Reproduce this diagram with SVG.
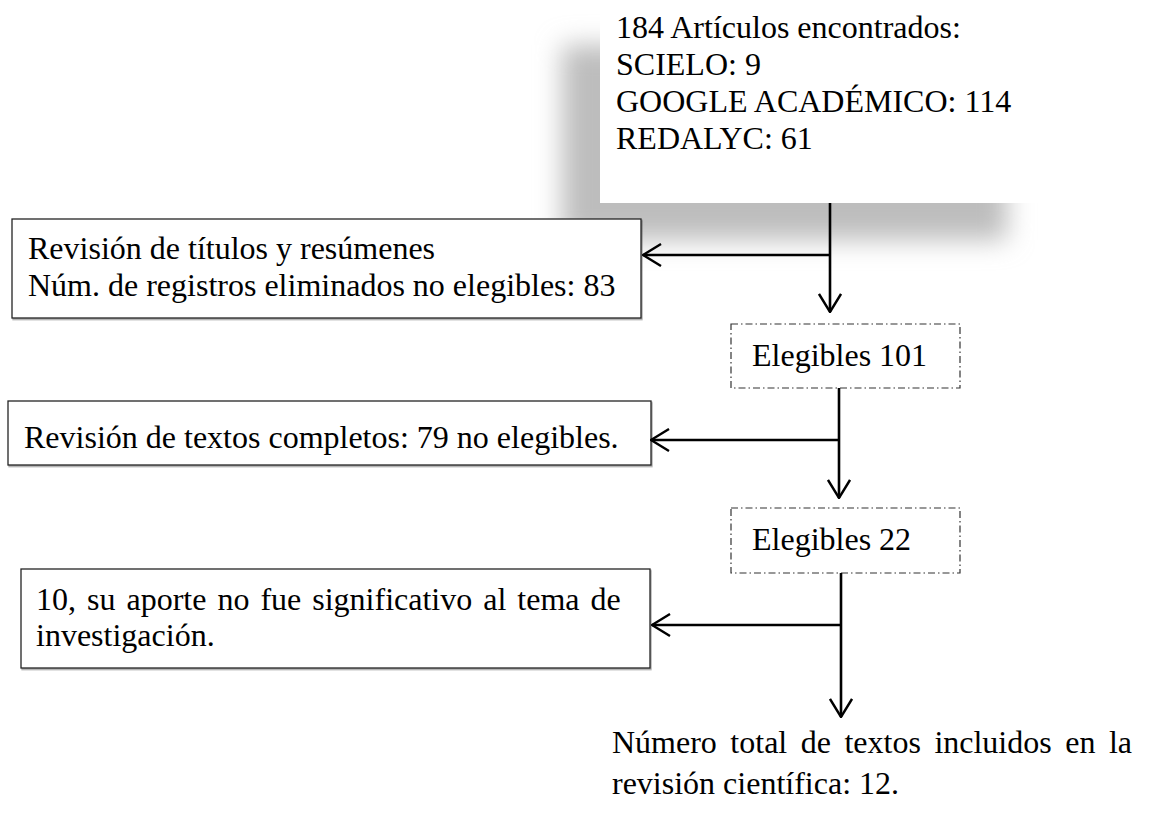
<svg xmlns="http://www.w3.org/2000/svg" width="1151" height="815" viewBox="0 0 1151 815">
  <style>
    .t { font-family: "Liberation Serif", "Times New Roman", serif; font-size: 32px; fill: #000; }
    .box { fill: #fff; stroke: #222; stroke-width: 1.3; }
    .dash { fill: #fff; stroke: #333; stroke-width: 1.2; stroke-dasharray: 7 3 1.5 3; }
    .conn { fill: none; stroke: #000; stroke-width: 2.6; }
  </style>
  <defs>
    <filter id="blur" x="-20%" y="-20%" width="140%" height="140%">
      <feGaussianBlur stdDeviation="13"/>
    </filter>
    <filter id="sh" x="-5%" y="-5%" width="110%" height="120%">
      <feDropShadow dx="1" dy="1.5" stdDeviation="0.6" flood-color="#000" flood-opacity="0.35"/>
    </filter>
    <marker id="arr" viewBox="0 0 20 24" refX="19" refY="12" markerWidth="20" markerHeight="24" markerUnits="userSpaceOnUse" orient="auto">
      <path d="M1,1 L19,12 L1,23" fill="none" stroke="#000" stroke-width="2.4"/>
    </marker>
  </defs>

  <g id="n-articulos">
    <rect x="562" y="45" width="445" height="195" fill="#bdbdbd" filter="url(#blur)"/>
    <rect x="600" y="-10" width="450" height="213" fill="#fff"/>
    <text class="t" x="616" y="38">184 Artículos encontrados:</text>
    <text class="t" x="616" y="75">SCIELO: 9</text>
    <text class="t" x="616" y="112">GOOGLE ACADÉMICO: 114</text>
    <text class="t" x="616" y="149">REDALYC: 61</text>
  </g>

  <g id="n-revision-titulos">
    <rect class="box" x="12" y="219" width="629" height="99" filter="url(#sh)"/>
    <text class="t" x="28" y="259">Revisión de títulos y resúmenes</text>
    <text class="t" x="28" y="296">Núm. de registros eliminados no elegibles: 83</text>
  </g>

  <g id="n-elegibles-101">
    <rect class="dash" x="731" y="324" width="229" height="64"/>
    <text class="t" x="752" y="366">Elegibles 101</text>
  </g>

  <g id="n-revision-textos">
    <rect class="box" x="8" y="401" width="643" height="64" filter="url(#sh)"/>
    <text class="t" x="24" y="448">Revisión de textos completos: 79 no elegibles.</text>
  </g>

  <g id="n-elegibles-22">
    <rect class="dash" x="731" y="508" width="229" height="65"/>
    <text class="t" x="752" y="550">Elegibles 22</text>
  </g>

  <g id="n-no-significativo">
    <rect class="box" x="21" y="569" width="629" height="99" filter="url(#sh)"/>
    <text class="t" x="36" y="610" word-spacing="3">10, su aporte no fue significativo al tema de</text>
    <text class="t" x="36" y="646">investigación.</text>
  </g>

  <g id="n-total">
    <text class="t" x="612" y="753" word-spacing="5.5">Número total de textos incluidos en la</text>
    <text class="t" x="612" y="794">revisión científica: 12.</text>
  </g>

  <g id="connectors">
    <line class="conn" x1="830" y1="203" x2="830" y2="312" marker-end="url(#arr)"/>
    <line class="conn" x1="830" y1="255" x2="643" y2="255" marker-end="url(#arr)"/>
    <line class="conn" x1="839" y1="388" x2="839" y2="498" marker-end="url(#arr)"/>
    <line class="conn" x1="839" y1="440" x2="651" y2="440" marker-end="url(#arr)"/>
    <line class="conn" x1="841" y1="573" x2="841" y2="717" marker-end="url(#arr)"/>
    <line class="conn" x1="841" y1="625" x2="652" y2="625" marker-end="url(#arr)"/>
  </g>
</svg>
